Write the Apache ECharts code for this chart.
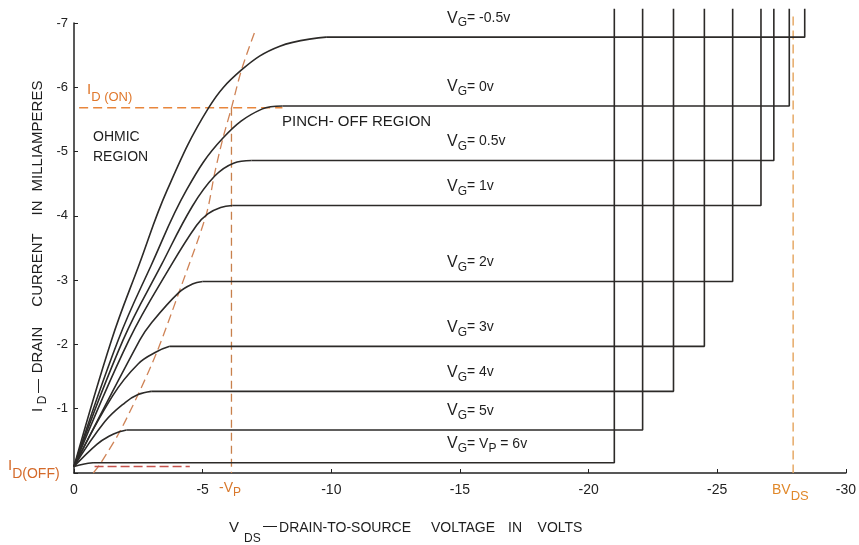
<!DOCTYPE html>
<html>
<head>
<meta charset="utf-8">
<script src="https://cdn.jsdelivr.net/npm/echarts@6/dist/echarts.min.js"></script>
<style>html,body{margin:0;padding:0;background:#fff}#c{width:859px;height:545px}</style>
</head>
<body>
<div id="c"></div>
<script>
// ---- data (magnitudes; plotted as negative values) ----
const vgLabels = ['-0.5', '0', '0.5', '1', '2', '3', '4', '5', '6'];
const satCurrent = [6.78, 5.71, 4.86, 4.16, 2.98, 1.97, 1.27, 0.67, 0.16];      // mA
const kneeVoltage = [9.8, 8.1, 6.9, 6.15, 5.0, 3.72, 3.0, 2.04, 0.74];          // V
const breakdownVoltage = [28.4, 27.8, 27.2, 26.7, 25.6, 24.5, 23.3, 22.1, 21.0];// V
const topCurrent = 7.22;
const riseVgM05 = [[0, 0.1], [1.46, 2.07], [2.53, 3.24], [3.62, 4.40], [5.23, 5.68], [6.51, 6.27], [8.0, 6.64]];
const riseVg0 = [[0, 0.1], [1.72, 2.07], [3.01, 3.24], [4.37, 4.40], [5.79, 5.21], [7.3, 5.66]];
const riseVg05 = [[0, 0.1], [1.91, 2.07], [3.40, 3.24], [4.6, 4.15], [5.47, 4.62], [6.2, 4.82]];
const riseVg1 = [[0, 0.1], [2.14, 2.07], [3.79, 3.24], [4.76, 3.85], [5.2, 4.03], [5.7, 4.13]];
const riseVg2 = [[0, 0.1], [2.56, 2.07], [3.0, 2.33], [4.08, 2.81], [4.6, 2.94]];
const riseVg3 = [[0, 0.1], [1.5, 1.2], [2.5, 1.7], [3.23, 1.89]];
const riseVg4 = [[0, 0.1], [1.2, 0.8], [2.0, 1.1], [2.49, 1.22]];
const riseVg5 = [[0, 0.1], [0.9, 0.45], [1.4, 0.58], [1.76, 0.64]];
const riseVg6 = [[0, 0.1], [0.4, 0.14]];
const risePoints = [riseVgM05, riseVg0, riseVg05, riseVg1, riseVg2, riseVg3, riseVg4, riseVg5, riseVg6];
const pinchLocus = [[0.75, 0], [1.0, 0.13], [1.76, 0.63], [2.49, 1.22], [3.23, 1.89], [4.08, 2.81], [5.14, 4.02], [5.47, 4.67], [5.79, 5.21], [6.12, 5.68], [6.51, 6.27], [7.05, 6.89]];
const idOn = 5.68, idOnStart = 0.2, idOnEnd = 8.1;
const vp = 6.12;
const bvds = 27.95, bvdsTop = 7.1;
const idOff = 0.1, idOffStart = 0.8, idOffEnd = 4.5;

const FAM = '"Liberation Sans", Arial, sans-serif';
const CURVE = '#2c2a28';
const ORANGE = '#e0782c';

const neg = p => [-p[0], -p[1]];
const chart = echarts.init(document.getElementById('c'));

const series = [];
risePoints.forEach((pts, i) => {
  series.push({
    type: 'line', data: pts.concat([[kneeVoltage[i], satCurrent[i]]]).map(neg),
    smooth: 0.4, showSymbol: false, silent: true, z: 4,
    lineStyle: { color: CURVE, width: 1.6 }
  });
  series.push({
    type: 'line', showSymbol: false, silent: true, clip: false, z: 4,
    data: [[kneeVoltage[i], satCurrent[i]], [breakdownVoltage[i], satCurrent[i]], [breakdownVoltage[i], topCurrent]].map(neg),
    lineStyle: { color: CURVE, width: 1.6 }
  });
});
function dashed(data, color, dash, w, smooth) {
  return { type: 'line', data: data.map(neg), showSymbol: false, silent: true, clip: false, z: 3,
    smooth: smooth || false, lineStyle: { color, width: w || 1.4, type: dash } };
}
series.push(dashed([[idOnStart, idOn], [idOnEnd, idOn]], '#e8863c', [9, 5], 1.5));
series.push(dashed([[vp, idOn], [vp, 0]], '#c8804c', [8, 5], 1.3));
series.push(dashed([[bvds, bvdsTop], [bvds, 0]], '#e4a45c', [9, 5], 1.4));
series.push(dashed(pinchLocus, '#cf8356', [9, 5], 1.3, 0.3));
series.push(dashed([[idOffStart, idOff], [idOffEnd, idOff]], '#c4504a', [9, 4], 1.5));

chart.setOption({
  animation: false,
  backgroundColor: '#fff',
  grid: { left: 74, right: 11, top: 23, bottom: 72 },
  xAxis: {
    type: 'value', min: -30, max: 0, interval: 5, inverse: true,
    axisLine: { onZero: false, lineStyle: { color: '#222', width: 1.5 } },
    axisTick: { inside: true, length: 4, lineStyle: { color: '#222' } },
    axisLabel: { margin: 10, fontSize: 14, color: '#222', fontFamily: FAM },
    splitLine: { show: false }
  },
  yAxis: {
    type: 'value', min: -7, max: 0, interval: 1, inverse: true,
    axisLine: { onZero: false, lineStyle: { color: '#222', width: 1.5 } },
    axisTick: { inside: true, length: 4, lineStyle: { color: '#222' } },
    axisLabel: { margin: 6, fontSize: 13, color: '#222', fontFamily: FAM,
      formatter: v => (v === 0 ? '' : String(v)) },
    splitLine: { show: false }
  },
  series
});

// ---- text annotations ----
const mctx = document.createElement('canvas').getContext('2d');
function tw(t, s) { mctx.font = s + 'px ' + FAM; return mctx.measureText(t).width; }
function txt(t, s, x, y, color, align) {
  return { type: 'text', x, y, silent: true, z: 10,
    style: { text: t, fill: color, font: s + 'px ' + FAM, textAlign: align || 'left', align: align || 'left',
      textVerticalAlign: 'middle', verticalAlign: 'middle' } };
}
function line(x, y, parts, color, extra) {
  let cx = 0; const ch = [];
  parts.forEach(([t, s, dy]) => { ch.push(txt(t, s, cx, dy || 0, color)); cx += tw(t, s); });
  return Object.assign({ type: 'group', x, y, children: ch }, extra || {});
}

const g = [];
vgLabels.forEach((lab, i) => {
  const py = chart.convertToPixel({ gridIndex: 0 }, [0, -satCurrent[i]])[1] - 19;
  const parts = i === 8
    ? [['V', 16, 0], ['G', 12, 5], ['= V', 14, 0], ['P', 12, 5], [' = 6v', 14, 0]]
    : [['V', 16, 0], ['G', 12, 5], ['= ' + lab + 'v', 14, 0]];
  g.push(line(447, py, parts, '#1e1e1e'));
});
g.push(txt('PINCH- OFF REGION', 15, 282, 122, '#1e1e1e'));
g.push(txt('OHMIC', 14, 93, 137, '#1e1e1e'));
g.push(txt('REGION', 14, 93, 157, '#1e1e1e'));
g.push(line(87, 90, [['I', 15, 0], ['D (ON)', 13, 7]], ORANGE));
g.push(line(8, 466, [['I', 15, 0], ['D(OFF)', 14, 8]], '#d46a2a'));
g.push(line(219, 488, [['-V', 14, 0], ['P', 12, 5]], '#d8782c'));
g.push(line(772, 490, [['BV', 14, 0], ['DS', 13, 6]], '#e0882a'));

// x-axis title
g.push(txt('V', 15, 229, 528, '#1e1e1e'));
g.push(txt('DS', 12, 244, 539, '#1e1e1e'));
g.push(txt('—', 14, 263, 526, '#1e1e1e'));
g.push(txt('DRAIN-TO-SOURCE', 14, 345, 528, '#1e1e1e', 'center'));
g.push(txt('VOLTAGE', 14, 463, 528, '#1e1e1e', 'center'));
g.push(txt('IN', 14, 515, 528, '#1e1e1e', 'center'));
g.push(txt('VOLTS', 14, 560, 528, '#1e1e1e', 'center'));

// y-axis title (rotated, reads bottom-to-top)
const yBase = 415;
const yWords = [['I', 15, 410, 0], ['D', 12, 400, 5], ['—', 14, 386, 0], ['DRAIN', 15, 350, 0], ['CURRENT', 15, 270, 0], ['IN', 15, 208, 0], ['MILLIAMPERES', 15, 136, 0]];
g.push({ type: 'group', x: 38, y: yBase, rotation: Math.PI / 2,
  children: yWords.map(([t, s, cy, dy]) => txt(t, s, yBase - cy, dy, '#1e1e1e', 'center')) });

chart.setOption({ graphic: g });
</script>
</body>
</html>
